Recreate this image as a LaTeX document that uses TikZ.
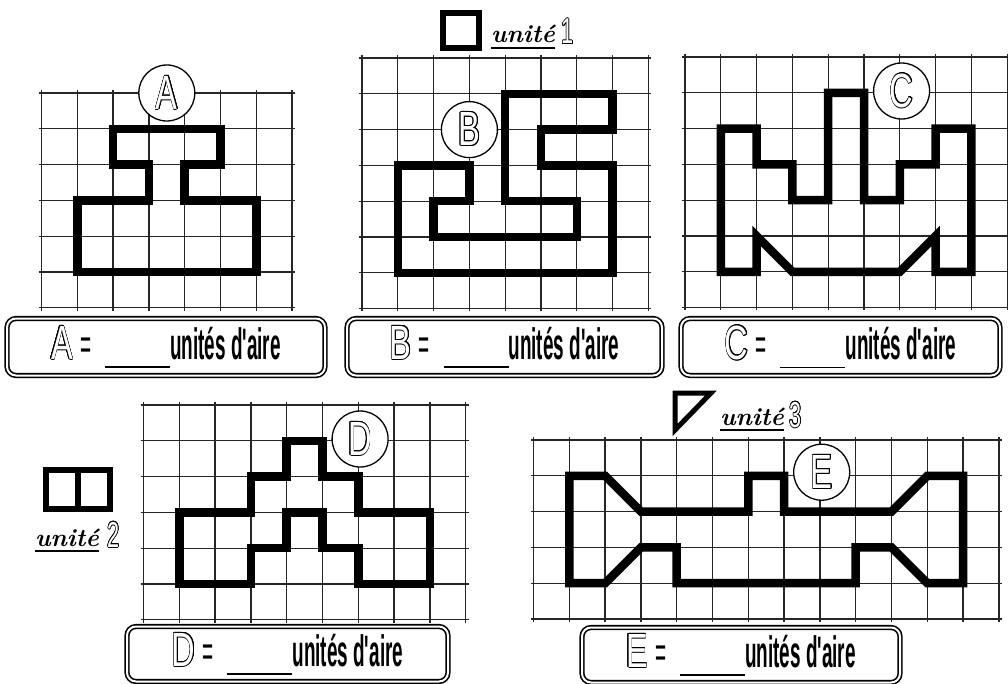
\documentclass[tikz,border=0pt]{standalone}
\usepackage{fontspec}
\usepackage[copies]{contour}
\usetikzlibrary{positioning}
\newfontfamily\condfont{Liberation Sans}[FakeStretch=0.43]
\newfontfamily\letterfont{Liberation Sans}
\contourlength{1pt}
\newcommand{\lettr}[1]{\scalebox{0.68}[1]{\letterfont\mdseries\fontsize{48}{48}\selectfont\textcolor{white}{\contour{black}{#1}}}}
\newcommand{\digt}[1]{\scalebox{0.6}[1]{\letterfont\mdseries\fontsize{36}{36}\selectfont\textcolor{white}{\contour{black}{#1}}}}
\newcommand{\blank}{\rule[-9pt]{65pt}{1.6pt}}
\newcommand{\drawgrid}[2]{%
  \foreach \i in {0,...,#1} \draw[gridline] (\i,-0.08) -- (\i,#2+0.08);
  \foreach \j in {0,...,#2} \draw[gridline] (-0.08,\j) -- (#1+0.08,\j);}

\begin{document}
\begin{tikzpicture}[x=1pt,y=-1pt,
  gridline/.style={line width=1.3pt,black!85},
  outline/.style={line width=8.5pt,line join=miter},
  badge/.style={circle,draw,fill=white,line width=1.3pt,minimum size=56pt,inner sep=0pt},
  areabox/.style={draw,double,line width=1.6pt,double distance=2pt,rounded corners=9pt,minimum height=57pt,inner sep=0pt,font=\condfont\bfseries\fontsize{44}{44}\selectfont},
  unitword/.style={anchor=base west,inner sep=0pt,font=\bfseries\itshape\fontsize{25}{25}\selectfont},
  unitnum/.style={anchor=base west,inner sep=0pt}]
  \fill[white] (0,0) rectangle (1008,684);
  \useasboundingbox (0,0) rectangle (1008,684);

  % figure A
  \begin{scope}[shift={(41.5,93)},x=35.8pt,y=-35.8pt]
    \drawgrid{7}{6}
    \draw[outline] (2,1) -- (5,1) -- (5,2) -- (4,2) -- (4,3) -- (6,3) -- (6,5) -- (1,5) -- (1,3) -- (3,3) -- (3,2) -- (2,2) -- cycle;
    \node[badge] (cA) at (3.5,0) {\lettr{A}};
  \end{scope}

  % figure B
  \begin{scope}[shift={(362,58)},x=35.8pt,y=-35.8pt]
    \drawgrid{8}{7}
    \draw[outline] (1,3) -- (3,3) -- (3,4) -- (2,4) -- (2,5) -- (6,5) -- (6,4) -- (4,4) -- (4,1) -- (7,1) -- (7,2) -- (5,2) -- (5,3) -- (7,3) -- (7,6) -- (1,6) -- cycle;
    \node[badge] (cB) at (3,2) {\lettr{B}};
  \end{scope}

  % figure C
  \begin{scope}[shift={(685,57)},x=35.8pt,y=-35.8pt]
    \drawgrid{9}{7}
    \draw[outline] (1,2) -- (2,2) -- (2,3) -- (3,3) -- (3,4) -- (4,4) -- (4,1) -- (5,1) -- (5,4) -- (6,4) -- (6,3) -- (7,3) -- (7,2) -- (8,2) -- (8,6) -- (7,6) -- (7,5) -- (6,6) -- (3,6) -- (2,5) -- (2,6) -- (1,6) -- cycle;
    \node[badge] (cC) at (6.05,0.95) {\lettr{C}};
  \end{scope}

  % figure D
  \begin{scope}[shift={(143.5,405)},x=35.8pt,y=-35.8pt]
    \drawgrid{9}{6}
    \draw[outline] (1,3) -- (3,3) -- (3,2) -- (4,2) -- (4,1) -- (5,1) -- (5,2) -- (6,2) -- (6,3) -- (8,3) -- (8,5) -- (6,5) -- (6,4) -- (5,4) -- (5,3) -- (4,3) -- (4,4) -- (3,4) -- (3,5) -- (1,5) -- cycle;
    \node[badge] (cD) at (6.05,0.95) {\lettr{D}};
  \end{scope}

  % figure E
  \begin{scope}[shift={(533.5,440)},x=35.8pt,y=-35.8pt]
    \drawgrid{13}{5}
    \draw[outline] (1,1) -- (2,1) -- (3,2) -- (6,2) -- (6,1) -- (7,1) -- (7,2) -- (10,2) -- (11,1) -- (12,1) -- (12,4) -- (11,4) -- (10,3) -- (9,3) -- (9,4) -- (4,4) -- (4,3) -- (3,3) -- (2,4) -- (1,4) -- cycle;
    \node[badge] (cE) at (8.05,0.9) {\lettr{E}};
  \end{scope}

  % units
  \draw[line width=6pt] (443,13) rectangle (478.5,48.5);
  \node[unitword] (u1) at (491,43) {unité};
  \node[unitnum] (n1) at (561,44) {\digt{1}};
  \draw[line width=6pt] (46.3,469.7) rectangle (110.3,508.7);
  \draw[line width=6pt] (78.3,469.7) -- (78.3,508.7);
  \node[unitword] (u2) at (35,546) {unité};
  \node[unitnum] (n2) at (107,547) {\digt{2}};
  \draw[line width=5pt,line join=miter] (675,393) -- (711,393) -- (675,430) -- cycle;
  \node[unitword] (u3) at (720,425) {unité};
  \node[unitnum] (n3) at (789,427) {\digt{3}};
  \foreach \u in {u1,u2,u3}
    \draw[line width=1.8pt] ([yshift=-5pt]\u.base west) -- ([yshift=-5pt]\u.base east);

  % answer boxes
  \node[areabox,minimum width=318pt] (bA) at (166,347) {\lettr{A}\hspace{7pt}{\mdseries=}\hspace{14pt}\blank unités d'aire};
  \node[areabox,minimum width=315pt] (bB) at (504.5,347) {\lettr{B}\hspace{7pt}{\mdseries=}\hspace{14pt}\blank unités d'aire};
  \node[areabox,minimum width=319pt] (bC) at (840.5,347) {\lettr{C}\hspace{7pt}{\mdseries=}\hspace{14pt}\blank unités d'aire};
  \node[areabox,minimum width=321pt,minimum height=55pt] (bD) at (287.5,654) {\lettr{D}\hspace{7pt}{\mdseries=}\hspace{14pt}\blank unités d'aire};
  \node[areabox,minimum width=318pt,minimum height=55pt] (bE) at (741,655) {\lettr{E}\hspace{7pt}{\mdseries=}\hspace{14pt}\blank unités d'aire};
\end{tikzpicture}
\end{document}
